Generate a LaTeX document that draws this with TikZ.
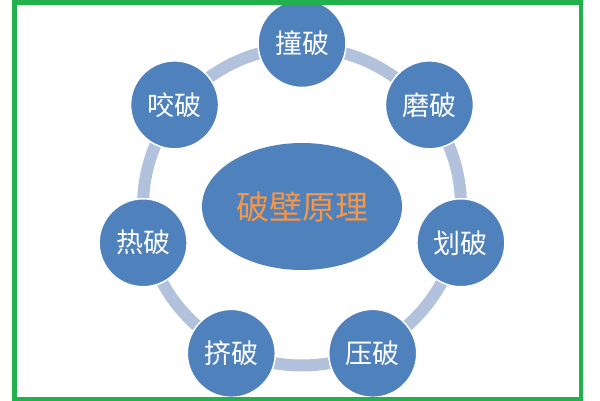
\documentclass[tikz,border=0pt]{standalone}
\usepackage{fontspec}
\setmainfont{Noto Sans CJK SC}
\usetikzlibrary{shapes.geometric}
\definecolor{ballblue}{HTML}{4F81BD}
\definecolor{ringgray}{HTML}{B3C2DC}
\definecolor{coretext}{HTML}{F79646}
\definecolor{framegreen}{HTML}{22B14C}
\begin{document}
\begin{tikzpicture}[x=1pt,y=1pt,
    ball/.style={circle,fill=ballblue,draw=white,line width=1.5pt,
      minimum size=88pt,inner sep=0pt,text=white,
      font=\fontsize{27}{27}\selectfont},
    core/.style={ellipse,fill=ballblue,minimum width=200pt,
      minimum height=127pt,inner sep=0pt,text=coretext,
      font=\fontsize{33}{33}\selectfont},
    ring/.style={ringgray,line width=12pt}]
  \useasboundingbox (0,0) rectangle (600,401);
  \coordinate (ctr) at (302,194.5);
  \draw[ring] (ctr) circle[radius=159];
  \node[core] (heart) at (ctr) {破壁原理};
  \foreach \lbl [count=\i] in {撞破,磨破,划破,压破,挤破,热破,咬破}
    \path (ctr) ++({90-(\i-1)*360/7}:163) node[ball] (b\i) {\lbl};
  \draw[framegreen,line width=4.5pt] (14.5,2) rectangle (581,398.5);
\end{tikzpicture}
\end{document}
